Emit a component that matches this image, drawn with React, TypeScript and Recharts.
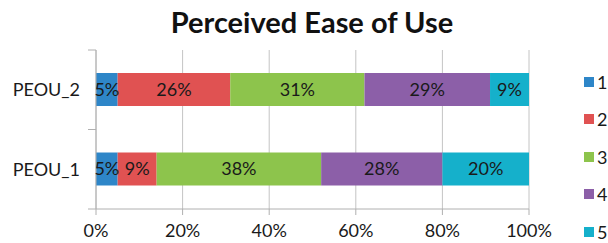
import React from 'react';
import { BarChart, Bar, XAxis, YAxis, CartesianGrid, LabelList } from 'recharts';

const categories = ['PEOU_2', 'PEOU_1'];
const seriesNames = ['1', '2', '3', '4', '5'];
const s1 = [5, 5];
const s2 = [26, 9];
const s3 = [31, 38];
const s4 = [29, 28];
const s5 = [9, 20];
const seriesValues = [s1, s2, s3, s4, s5];
const xTicks = [0, 20, 40, 60, 80, 100];
const colors = ['#2e86c8', '#e05252', '#8dc44c', '#8c5fa8', '#15b0cb'];

const W = 608;
const H = 243;
const margin = { top: 50, right: 79, bottom: 0, left: 0 };
const yAxisWidth = 96;
const xAxisHeight = 34;
const plotH = H - margin.top - margin.bottom - xAxisHeight;
const axisX = margin.left + yAxisWidth;
const FONT = 'Lato, "Open Sans", sans-serif';

const data = categories.map((c, i) => {
  const row: any = { name: c };
  seriesNames.forEach((s, k) => {
    row[s] = seriesValues[k][i];
  });
  return row;
});

const YTick = (props: any) => {
  const { y, payload } = props;
  const half = plotH / categories.length / 2;
  return (
    <g>
      <line x1={axisX - 8} x2={axisX} y1={y - half} y2={y - half} stroke="#b0b0b0" />
      <line x1={axisX - 8} x2={axisX} y1={y + half} y2={y + half} stroke="#b0b0b0" />
      <text x={axisX - 16} y={y} dy="0.35em" textAnchor="end" fill="#1a1a1a" fontSize={18} fontFamily={FONT}>
        {payload.value}
      </text>
    </g>
  );
};

const LegendBox = () => (
  <div style={{ position: 'absolute', left: 584, top: 63, fontFamily: FONT, fontSize: 18, color: '#1a1a1a' }}>
    {seriesNames.map((s, i) => (
      <div key={s} style={{ height: 37.5, display: 'flex', alignItems: 'center', whiteSpace: 'nowrap' }}>
        <span style={{ display: 'inline-block', width: 10, height: 10, background: colors[i], marginRight: 3 }} />
        <span>{s}</span>
      </div>
    ))}
  </div>
);

export default function App() {
  return (
    <div style={{ position: 'absolute', left: 0, top: 0, width: W, height: H, background: '#fff', overflow: 'hidden' }}>
      <div
        style={{
          position: 'absolute',
          left: 0,
          top: 4,
          width: 624,
          textAlign: 'center',
          fontFamily: FONT,
          fontWeight: 700,
          fontSize: 29,
          color: '#111',
          lineHeight: '36px',
        }}
      >
        Perceived Ease of Use
      </div>
      <BarChart width={W} height={H} data={data} layout="vertical" margin={margin} barSize={33}>
        <CartesianGrid horizontal={false} stroke="#c4c4c4" />
        <XAxis
          type="number"
          domain={[0, 100]}
          ticks={xTicks}
          tickFormatter={(v: number) => `${v}%`}
          height={xAxisHeight}
          tickSize={6}
          tickMargin={9}
          axisLine={{ stroke: '#b0b0b0' }}
          tickLine={{ stroke: '#b0b0b0' }}
          tick={{ fill: '#1a1a1a', fontSize: 18, fontFamily: FONT }}
          interval={0}
        />
        <YAxis
          type="category"
          dataKey="name"
          width={yAxisWidth}
          axisLine={{ stroke: '#b0b0b0' }}
          tickLine={false}
          tick={<YTick />}
        />
        {seriesNames.map((s, i) => (
          <Bar key={s} dataKey={s} stackId="a" fill={colors[i]} isAnimationActive={false}>
            <LabelList
              dataKey={s}
              position="center"
              formatter={(v: any) => `${v}%`}
              fill="#1a1a1a"
              fontSize={18}
              fontFamily={FONT}
            />
          </Bar>
        ))}
      </BarChart>
      <LegendBox />
    </div>
  );
}
